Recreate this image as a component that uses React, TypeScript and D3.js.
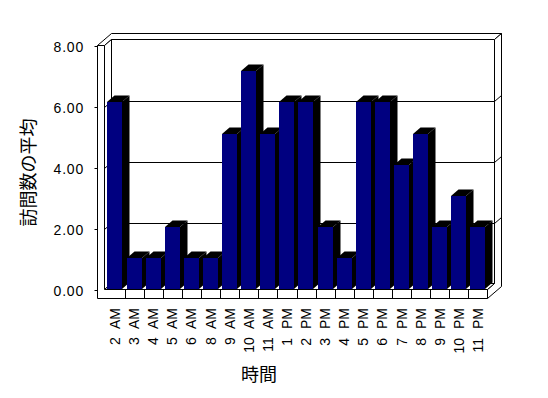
import React from "react";
import * as d3 from "d3";

const categories = ["2 AM","3 AM","4 AM","5 AM","6 AM","8 AM","9 AM","10 AM","11 AM","1 PM","2 PM","3 PM","4 PM","5 PM","6 PM","7 PM","8 PM","9 PM","10 PM","11 PM"];
const values = [6,1,1,2,1,1,5,7,5,6,6,2,1,6,6,4,5,2,3,2];
const yTickValues = [0, 2, 4, 6, 8];
const yTickLabels = ["0.00", "2.00", "4.00", "6.00", "8.00"];
const yTitle = "訪問数の平均";
const xTitle = "時間";

const W = 548, H = 398;
const plotLeft = 104.5, plotRight = 487.5, plotTop = 45.5, plotBottom = 289.5;
const wallLeft = 97.5;
const floorBottom = 298.5;
const depthX = 7, depthY = -6;
const barDX = 7.5, barDY = -6.5;

type Pt = [number, number];
const P = (x: number, y: number, z: number): Pt => [x + depthX * z, y + depthY * z];
const poly = (pts: Pt[]) => pts.map((p) => p.join(",")).join(" ");

export default function App() {
  const x = d3.scaleBand<string>().domain(categories).range([105.5, 487.5]);
  const yAxis = d3.scaleLinear().domain([0, 8]).range([plotBottom, plotTop]);
  const yBar = d3.scaleLinear().domain([0, 8]).range([plotBottom, plotBottom - 8 * 31.2]);
  const bw = x.bandwidth();

  const frame = { fill: "#fff", stroke: "#000", strokeWidth: 1 };

  return (
    <svg width={W} height={H} style={{ position: "absolute", left: 0, top: 0, background: "#fff" }}>
      <rect x={0} y={0} width={W} height={H} fill="#fff" />
      {/* top of left and back walls */}
      <polygon {...frame} points={poly([P(wallLeft, plotTop, 0), P(wallLeft, plotTop, 2), P(plotRight, plotTop, 2), P(plotRight, plotTop, 1), P(plotLeft, plotTop, 1), P(plotLeft, plotTop, 0)])} />
      {/* back wall front face */}
      <polygon {...frame} points={poly([P(plotLeft, plotTop, 1), P(plotRight, plotTop, 1), P(plotRight, plotBottom, 1), P(plotLeft, plotBottom, 1)])} />
      {/* right face (back wall + floor) */}
      <polygon {...frame} points={poly([P(plotRight, plotTop, 1), P(plotRight, plotTop, 2), P(plotRight, floorBottom, 2), P(plotRight, floorBottom, 0), P(plotRight, plotBottom, 0), P(plotRight, plotBottom, 1)])} />
      {/* left wall inner face */}
      <polygon {...frame} points={poly([P(plotLeft, plotTop, 0), P(plotLeft, plotTop, 1), P(plotLeft, plotBottom, 1), P(plotLeft, plotBottom, 0)])} />
      {/* floor top face */}
      <polygon {...frame} points={poly([P(plotLeft, plotBottom, 0), P(plotRight, plotBottom, 0), P(plotRight, plotBottom, 1), P(plotLeft, plotBottom, 1)])} />
      {/* gridlines */}
      {yTickValues.filter((v) => v > 0 && v < 8).map((v) => {
        const yy = Math.round(yAxis(v)) + 0.5;
        const a = P(plotLeft, yy, 0), b = P(plotLeft, yy, 1), c = P(plotRight, yy, 1), d = P(plotRight, yy, 2);
        return (
          <polyline key={v} points={poly([a, b, c, d])} fill="none" stroke="#000" strokeWidth={1} />
        );
      })}
      {/* front face of left wall + floor */}
      <polygon {...frame} points={poly([[wallLeft, plotTop], [plotLeft, plotTop], [plotLeft, plotBottom], [plotRight, plotBottom], [plotRight, floorBottom], [wallLeft, floorBottom]])} />
      {categories.slice(1).map((c) => {
        const xx = Math.round(x(c)!) + 0.5;
        return <line key={c} x1={xx} x2={xx} y1={plotBottom} y2={floorBottom} stroke="#000" />;
      })}
      {/* bars */}
      {categories.map((c, i) => {
        const bx = Math.round(x(c)! + bw * 0.1);
        const w = Math.round(bw * 0.78);
        const yt = Math.round(yBar(values[i]));
        const yb = plotBottom - 0.5;
        return (
          <g key={c}>
            <polygon fill="#000" points={poly([[bx + w, yt], [bx + w + barDX, yt + barDY], [bx + w + barDX, yb + barDY], [bx + w, yb]])} />
            <polygon fill="#000" points={poly([[bx, yt], [bx + barDX, yt + barDY], [bx + w + barDX, yt + barDY], [bx + w, yt]])} />
            <rect x={bx} y={yt} width={w} height={yb - yt} fill="#000080" />
          </g>
        );
      })}
      {/* y ticks and labels */}
      {yTickValues.map((v, i) => {
        const yy = Math.round(yAxis(v)) + 0.5;
        return (
          <g key={v}>
            <line x1={wallLeft - 3} x2={wallLeft} y1={yy} y2={yy} stroke="#000" />
            <text x={84} y={yy + 5.5} textAnchor="end" fontFamily="Liberation Sans, Arial, sans-serif" fontSize={14} letterSpacing={0.8} fill="#000">
              {yTickLabels[i]}
            </text>
          </g>
        );
      })}
      {/* x labels */}
      {categories.map((c) => {
        const cx = x(c)! + bw / 2;
        return (
          <text key={c} transform={`translate(${cx},308) rotate(-90)`} dy="0.36em" textAnchor="end" fontFamily="Liberation Sans, Arial, sans-serif" fontSize={14} wordSpacing={5} fill="#000">
            {c}
          </text>
        );
      })}
      <text x={259} y={381} textAnchor="middle" fontFamily="Noto Sans CJK JP, sans-serif" fontSize={18} fill="#000">{xTitle}</text>
      <text transform="translate(28.5,172.5) rotate(-90)" dy="0.38em" textAnchor="middle" fontFamily="Noto Sans CJK JP, sans-serif" fontSize={18} fill="#000">{yTitle}</text>
    </svg>
  );
}
